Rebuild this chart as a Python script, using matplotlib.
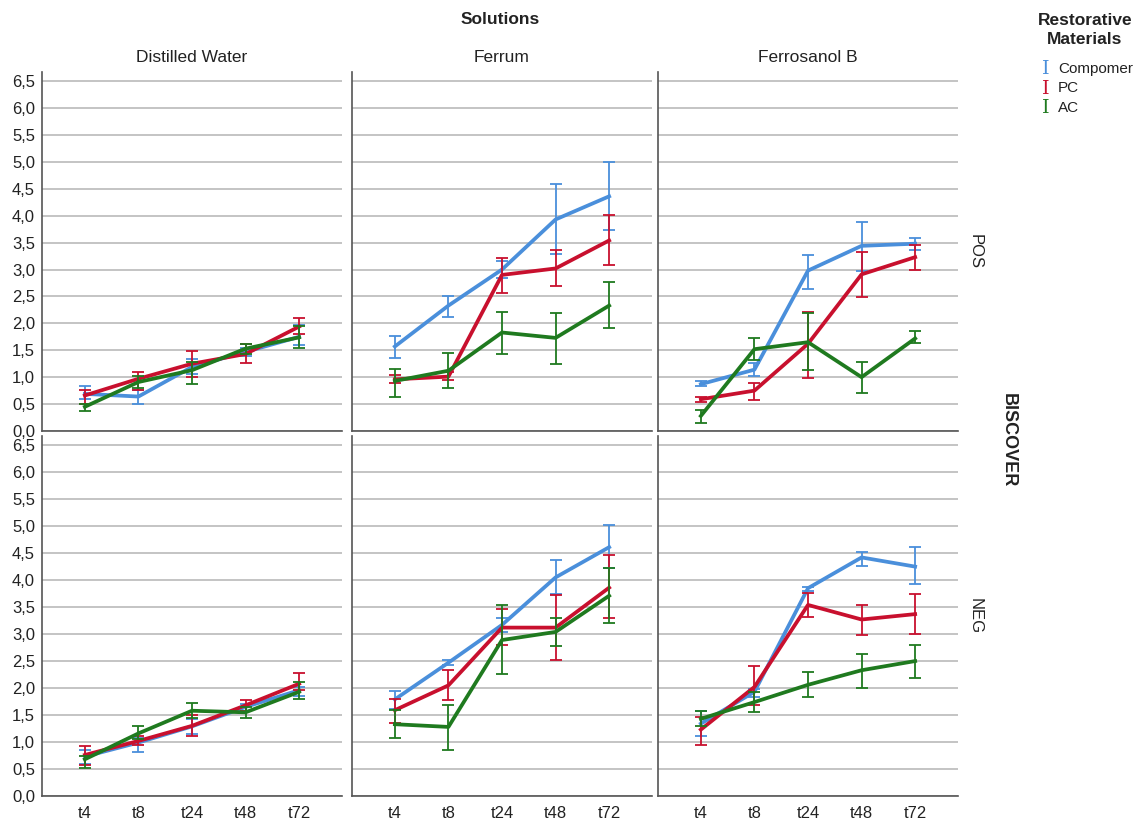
import matplotlib
matplotlib.use("Agg")
import matplotlib.pyplot as plt
import numpy as np

plt.rcParams['font.family'] = ['Liberation Sans', 'DejaVu Sans']

timepoints = ["t4", "t8", "t24", "t48", "t72"]
solutions = ["Distilled Water", "Ferrum", "Ferrosanol B"]
rows = ["POS", "NEG"]
materials = ["Compomer", "PC", "AC"]
colors = ["#4a8fdb", "#c8102e", "#1f7a1f"]
y_ticks = [0.0, 0.5, 1.0, 1.5, 2.0, 2.5, 3.0, 3.5, 4.0, 4.5, 5.0, 5.5, 6.0, 6.5]

# values per panel: rows = Compomer, PC, AC
dw_pos_mean = [[0.69, 0.64, 1.19, 1.47, 1.75], [0.66, 0.97, 1.25, 1.43, 1.94], [0.45, 0.91, 1.13, 1.53, 1.74]]
dw_pos_lo = [[0.60, 0.51, 1.05, 1.40, 1.60], [0.51, 0.77, 1.01, 1.26, 1.80], [0.38, 0.79, 0.88, 1.43, 1.54]]
dw_pos_hi = [[0.83, 0.77, 1.34, 1.55, 1.97], [0.77, 1.09, 1.48, 1.61, 2.10], [0.50, 1.03, 1.28, 1.62, 1.96]]

fe_pos_mean = [[1.57, 2.33, 3.00, 3.93, 4.36], [0.96, 1.01, 2.90, 3.02, 3.54], [0.93, 1.12, 1.83, 1.73, 2.33]]
fe_pos_lo = [[1.35, 2.12, 2.85, 3.28, 3.73], [0.89, 0.95, 2.56, 2.70, 3.08], [0.64, 0.80, 1.43, 1.25, 1.91]]
fe_pos_hi = [[1.77, 2.51, 3.16, 4.58, 4.99], [1.04, 1.09, 3.22, 3.36, 4.02], [1.15, 1.45, 2.22, 2.20, 2.77]]

fb_pos_mean = [[0.87, 1.14, 2.98, 3.44, 3.48], [0.59, 0.75, 1.62, 2.91, 3.23], [0.28, 1.52, 1.65, 1.00, 1.72]]
fb_pos_lo = [[0.83, 1.02, 2.64, 2.98, 3.37], [0.54, 0.57, 0.99, 2.49, 3.00], [0.14, 1.31, 1.14, 0.71, 1.64]]
fb_pos_hi = [[0.92, 1.27, 3.27, 3.88, 3.59], [0.64, 0.90, 2.21, 3.32, 3.46], [0.39, 1.73, 2.20, 1.28, 1.85]]

dw_neg_mean = [[0.73, 0.99, 1.29, 1.65, 1.96], [0.76, 1.02, 1.30, 1.68, 2.08], [0.68, 1.16, 1.58, 1.55, 1.93]]
dw_neg_lo = [[0.60, 0.81, 1.15, 1.58, 1.86], [0.57, 0.94, 1.12, 1.58, 1.96], [0.51, 1.06, 1.44, 1.45, 1.80]]
dw_neg_hi = [[0.85, 1.08, 1.43, 1.71, 2.02], [0.93, 1.12, 1.50, 1.77, 2.27], [0.75, 1.29, 1.73, 1.65, 2.11]]

fe_neg_mean = [[1.79, 2.47, 3.17, 4.05, 4.61], [1.59, 2.05, 3.12, 3.12, 3.86], [1.33, 1.28, 2.89, 3.04, 3.71]]
fe_neg_lo = [[1.62, 2.42, 3.03, 3.74, 4.22], [1.36, 1.77, 2.80, 2.52, 3.29], [1.08, 0.86, 2.26, 2.78, 3.20]]
fe_neg_hi = [[1.94, 2.52, 3.29, 4.38, 5.03], [1.79, 2.34, 3.47, 3.73, 4.46], [1.60, 1.68, 3.53, 3.30, 4.22]]

fb_neg_mean = [[1.34, 1.93, 3.85, 4.42, 4.25], [1.23, 2.02, 3.54, 3.27, 3.37], [1.43, 1.74, 2.06, 2.33, 2.50]]
fb_neg_lo = [[1.11, 1.84, 3.79, 4.27, 3.92], [0.94, 1.68, 3.31, 2.98, 3.00], [1.30, 1.55, 1.84, 2.01, 2.19]]
fb_neg_hi = [[1.57, 1.99, 3.88, 4.53, 4.61], [1.46, 2.41, 3.77, 3.54, 3.74], [1.57, 1.93, 2.29, 2.63, 2.80]]

panels = [
    [(dw_pos_mean, dw_pos_lo, dw_pos_hi), (fe_pos_mean, fe_pos_lo, fe_pos_hi), (fb_pos_mean, fb_pos_lo, fb_pos_hi)],
    [(dw_neg_mean, dw_neg_lo, dw_neg_hi), (fe_neg_mean, fe_neg_lo, fe_neg_hi), (fb_neg_mean, fb_neg_lo, fb_neg_hi)],
]

W, H = 1144, 827
fig = plt.figure(figsize=(W / 100, H / 100), dpi=100)

col_x = [42, 352, 658]
col_w = 300
row_y = [(72, 431), (436, 796)]

axes = []
x = np.arange(len(timepoints))
for r in range(2):
    for c in range(3):
        top, bot = row_y[r]
        ax = fig.add_axes([col_x[c] / W, 1 - bot / H, col_w / W, (bot - top) / H])
        axes.append(ax)
        mean, lo, hi = panels[r][c]
        for k in range(3):
            m = np.array(mean[k]); l = np.array(lo[k]); h = np.array(hi[k])
            ax.errorbar(x, m, yerr=[m - l, h - m], color=colors[k], lw=2.7,
                        elinewidth=1.3, capsize=4.5, capthick=1.3, zorder=3 + k)
        ax.set_xlim(-0.8, 4.8)
        ax.set_ylim(0, 6.67)
        ax.set_yticks(y_ticks)
        ax.yaxis.grid(True, color="#b4b4b4", lw=1.1)
        ax.set_axisbelow(True)
        for s in ["top", "right"]:
            ax.spines[s].set_visible(False)
        for s in ["left", "bottom"]:
            ax.spines[s].set_color("#555555")
            ax.spines[s].set_linewidth(1.2)
        ax.tick_params(length=0, labelsize=12, colors="#222222")
        if c == 0:
            ax.set_yticklabels([f"{v:.1f}".replace(".", ",") for v in y_ticks])
            ax.tick_params(axis="y", pad=5)
        else:
            ax.set_yticklabels([])
        ax.set_xticks(x)
        if r == 1:
            ax.set_xticklabels(timepoints, fontsize=12)
            ax.tick_params(axis="x", pad=7)
        else:
            ax.set_xticklabels([])
        if r == 0:
            ax.set_title(solutions[c], fontsize=12.5, pad=7, color="#222222")

fig.text((42 + 958) / 2 / W, 1 - 19 / H, "Solutions", ha="center", va="center",
         fontsize=12.5, fontweight="bold", color="#222222")
fig.text(975 / W, 1 - 252 / H, "POS", rotation=-90, ha="center", va="center", fontsize=12, color="#222222")
fig.text(975 / W, 1 - 616 / H, "NEG", rotation=-90, ha="center", va="center", fontsize=12, color="#222222")
fig.text(1008 / W, 1 - 440 / H, "BISCOVER", rotation=-90, ha="center", va="center",
         fontsize=13, fontweight="bold", color="#222222")

fig.text(1085 / W, 1 - 30 / H, "Restorative\nMaterials", ha="center", va="center",
         fontsize=12.5, fontweight="bold", color="#222222", linespacing=1.3)
for i, (name, col) in enumerate(zip(materials, colors)):
    yy = 1 - (69 + 19.5 * i) / H
    fig.text(1042 / W, yy, "I", ha="left", va="center", fontsize=14, color=col,
             family=["DejaVu Serif"])
    fig.text(1058 / W, yy, name, ha="left", va="center", fontsize=11, color="#222222")

fig.savefig("out.png", dpi=100)
